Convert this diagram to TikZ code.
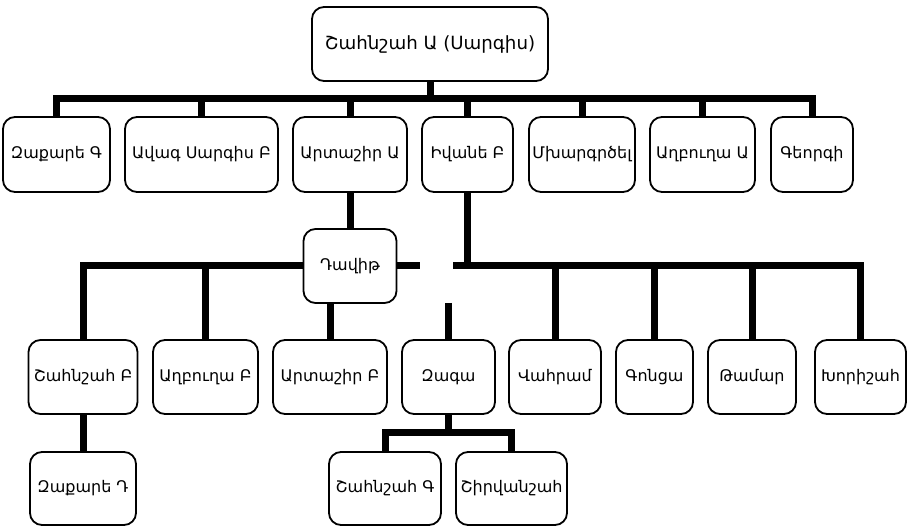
\documentclass[tikz,border=0pt]{standalone}
\usepackage{fontspec}
\setmainfont{DejaVu Sans}
\usetikzlibrary{backgrounds}
\begin{document}
\begin{tikzpicture}[x=1pt,y=-1pt,
  box/.style={draw,line width=1.8pt,rounded corners=12pt,fill=white,inner sep=0pt,
    font=\fontsize{16}{19}\selectfont,align=center,anchor=center},
  conn/.style={line width=7pt,line join=miter}]
\useasboundingbox (0,0) rectangle (908,526);
\coordinate (b1) at (0,99);
\coordinate (gapL) at (420,266);
\coordinate (gapR) at (453,266);
\coordinate (zagtop) at (448,303);
\coordinate (b4) at (0,433);
% nodes
\node[box,minimum width=236pt,minimum height=74pt,font=\fontsize{18.2}{21}\selectfont] (root) at (430,44) {Շահնշահ Ա (Սարգիս)};
\node[box,minimum width=107pt,minimum height=75pt] (zakG) at (56.5,154.5) {Զաքարե Գ};
\node[box,minimum width=153pt,minimum height=75pt] (avag) at (201.5,154.5) {Ավագ Սարգիս Բ};
\node[box,minimum width=114pt,minimum height=75pt] (artA) at (350,154.5) {Արտաշիր Ա};
\node[box,minimum width=91pt,minimum height=75pt] (ivane) at (467.5,154.5) {Իվանե Բ};
\node[box,minimum width=106pt,minimum height=75pt] (mkh) at (582,154.5) {Մխարգրծել};
\node[box,minimum width=105pt,minimum height=75pt] (aghA) at (702.5,154.5) {Աղբուղա Ա};
\node[box,minimum width=82pt,minimum height=75pt] (geor) at (812,154.5) {Գեորգի};
\node[box,minimum width=93pt,minimum height=74pt] (dav) at (350,266) {Դավիթ};
\node[box,minimum width=109pt,minimum height=74pt] (shahB) at (83,377) {Շահնշահ Բ};
\node[box,minimum width=105pt,minimum height=74pt] (aghB) at (205.5,377) {Աղբուղա Բ};
\node[box,minimum width=114pt,minimum height=74pt] (artB) at (330,377) {Արտաշիր Բ};
\node[box,minimum width=93pt,minimum height=74pt] (zaga) at (448.5,377) {Զագա};
\node[box,minimum width=92pt,minimum height=74pt] (vah) at (555,377) {Վահրամ};
\node[box,minimum width=77pt,minimum height=74pt] (gon) at (654.5,377) {Գոնցա};
\node[box,minimum width=88pt,minimum height=74pt] (tam) at (752,377) {Թամար};
\node[box,minimum width=91pt,minimum height=74pt] (khor) at (860.5,377) {Խորիշահ};
\node[box,minimum width=106pt,minimum height=73pt] (zakD) at (83,488.5) {Զաքարե Դ};
\node[box,minimum width=112pt,minimum height=73pt] (shahG) at (385,488.5) {Շահնշահ Գ};
\node[box,minimum width=111pt,minimum height=73pt] (shirv) at (511.5,488.5) {Շիրվանշահ};
% connectors
\begin{scope}[on background layer]
\draw[conn] (root.south) -- (root.south |- b1);
\draw[conn] (zakG.north) -- (zakG.north |- b1) -- (geor.north |- b1) -- (geor.north);
\foreach \n in {avag,artA,ivane,mkh,aghA} \draw[conn] (\n.north) -- (\n.north |- b1);
\draw[conn] (shahB.north) -- (shahB.north |- gapL) -- (gapL);
\draw[conn] (artA.south) -- (artA.south |- dav.north);
\draw[conn] (aghB.north) -- (aghB.north |- gapL);
\draw[conn] (artB.north) -- (artB.north |- dav.south);
\draw[conn] (ivane.south) -- (ivane.south |- gapR);
\draw[conn] (gapR) -- (khor.north |- gapR) -- (khor.north);
\foreach \n in {vah,gon,tam} \draw[conn] (\n.north) -- (\n.north |- gapR);
\draw[conn] (zaga.north |- zagtop) -- (zaga.north);
\draw[conn] (shahB.south) -- (shahB.south |- zakD.north);
\draw[conn] (zaga.south) -- (zaga.south |- b4);
\draw[conn] (shahG.north) -- (shahG.north |- b4) -- (shirv.north |- b4) -- (shirv.north);
\end{scope}
\end{tikzpicture}
\end{document}
